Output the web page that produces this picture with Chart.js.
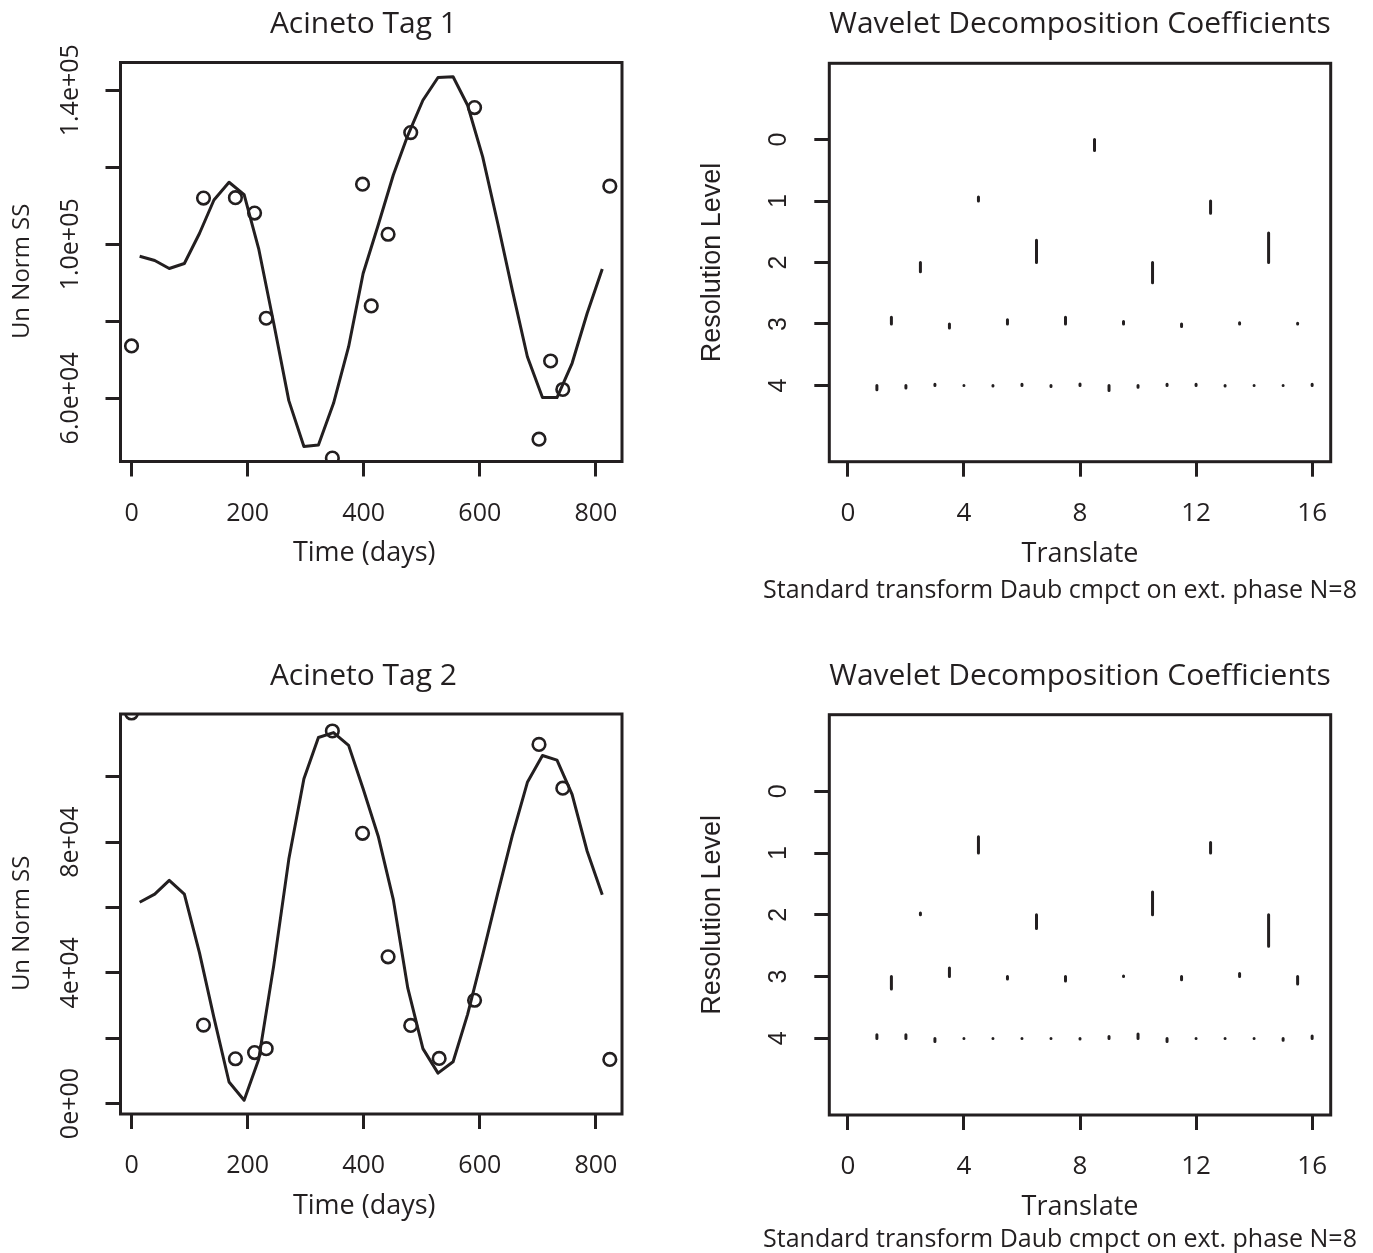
<!DOCTYPE html>
<html>
<head>
<meta charset="utf-8">
<script src="https://cdn.jsdelivr.net/npm/chart.js@4.4.1/dist/chart.umd.min.js"></script>
<style>
  html, body { margin: 0; padding: 0; background: #fff; }
  #page { position: relative; width: 1373px; height: 1253px; }
  #page canvas { position: absolute; left: 0; top: 0; }
</style>
</head>
<body>
<div id="page">
  <canvas id="tag1" width="1373" height="1253"></canvas>
  <canvas id="wave1" width="1373" height="1253"></canvas>
  <canvas id="tag2" width="1373" height="1253"></canvas>
  <canvas id="wave2" width="1373" height="1253"></canvas>
</div>
<script>
// sampling days of the observations (circles)
const sampleDays = [0, 124, 179, 212, 232, 346, 398, 413, 442, 481, 530, 591, 702, 722, 743, 824];
const tag1Obs = [73600, 112000, 112100, 108100, 80800, 44500, 115600, 84000, 102600, 129000, null, 135500, 49400, 69700, 62300, 115100];
const tag2Obs = [119500, 24000, 13700, 15600, 16800, 114000, 82700, null, 44900, 23900, 13800, 31600, 109900, null, 96500, 13500];

// fitted curve
const fitDays = [14, 40, 65, 91, 117, 142, 168, 194, 219, 245, 271, 297, 322, 348, 374, 399,
                 425, 451, 476, 502, 528, 554, 579, 605, 631, 656, 682, 708, 733, 759, 785, 811];
const tag1Fit = [96900, 95800, 93700, 95000, 102800, 111500, 116100, 112900, 98900, 79500, 59400, 47500, 47900, 58700, 73400, 92400,
                 105000, 118000, 128300, 137400, 143300, 143500, 136100, 122700, 105400, 88100, 70800, 60200, 60200, 69100, 82100, 93600];
const tag2Fit = [61600, 64100, 68300, 64100, 46200, 26300, 6600, 1000, 13500, 42200, 74800, 99400, 112000, 113500, 109600, 96300,
                 81800, 62400, 35300, 16800, 9300, 12800, 27300, 45500, 64400, 82000, 98300, 106500, 105100, 94600, 77200, 63900];

const dayTicks = [0, 200, 400, 600, 800];
const tag1YTicks = [60000, 80000, 100000, 120000, 140000];
const tag1YLabels = ['6.0e+04', '', '1.0e+05', '', '1.4e+05'];
const tag2YTicks = [0, 20000, 40000, 60000, 80000, 100000];
const tag2YLabels = ['0e+00', '', '4e+04', '', '8e+04', ''];

// wavelet coefficients: positions and segment lengths per resolution level
const levels = [0, 1, 2, 3, 4];
const translates = [
  [8.5],
  [4.5, 12.5],
  [2.5, 6.5, 10.5, 14.5],
  [1.5, 3.5, 5.5, 7.5, 9.5, 11.5, 13.5, 15.5],
  [1, 2, 3, 4, 5, 6, 7, 8, 9, 10, 11, 12, 13, 14, 15, 16]
];
const wave1Coefs = [
  [0.18],
  [-0.065, 0.2],
  [0.15, -0.36, 0.33, -0.48],
  [-0.11, 0.065, -0.07, -0.11, -0.04, 0.04, -0.02, -0.01],
  [0.07, 0.04, -0.02, 0, 0.01, -0.02, 0.015, -0.025, 0.08, 0.03, -0.02, -0.02, 0.01, 0, 0, -0.02]
];
const wave2Coefs = [
  [null],
  [-0.265, -0.17],
  [-0.03, 0.22, -0.37, 0.51],
  [0.2, -0.14, 0.04, 0.07, -0.01, 0.05, -0.05, 0.12],
  [-0.06, -0.06, 0.05, 0, 0, 0, 0, 0.01, -0.03, -0.07, 0.05, 0, 0, 0, 0.03, -0.04]
];
const translateTicks = [0, 4, 8, 12, 16];
const levelLabels = ['0', '1', '2', '3', '4'];

const INK = '#231f20';
const W = 1373, H = 1253;
const XAXIS_H = 108.5;
// the left-hand titles sit a little off the box centre in the original
const NB = '\u00a0\u00a0';

Chart.defaults.font.family = "'Open Sans', sans-serif";
Chart.defaults.color = INK;

// box around the plot region, like R's box()
const frame = {
  id: 'frame',
  afterDatasetsDraw(chart) {
    const { ctx, chartArea: a } = chart;
    ctx.save();
    ctx.strokeStyle = INK;
    ctx.lineWidth = 3;
    ctx.strokeRect(a.left, a.top, a.right - a.left, a.bottom - a.top);
    ctx.restore();
  }
};

// y tick labels drawn parallel to the axis
const sideLabels = {
  id: 'sideLabels',
  afterDraw(chart, args, opts) {
    const s = chart.scales.y;
    const ctx = chart.ctx;
    ctx.save();
    ctx.fillStyle = INK;
    ctx.font = opts.font;
    ctx.textAlign = 'center';
    ctx.textBaseline = 'middle';
    opts.values.forEach((v, i) => {
      if (!opts.labels[i]) return;
      ctx.save();
      ctx.translate(chart.chartArea.left - opts.gap, s.getPixelForValue(v));
      ctx.rotate(-Math.PI / 2);
      ctx.fillText(opts.labels[i], 0, 0);
      ctx.restore();
    });
    ctx.restore();
  }
};

// sub-caption under the x axis title, wider than the plot so not squeezed
const caption = {
  id: 'caption',
  afterDraw(chart, args, opts) {
    if (!opts.text) return;
    const { ctx, chartArea: a } = chart;
    ctx.save();
    ctx.fillStyle = INK;
    ctx.font = opts.font;
    ctx.textAlign = 'center';
    ctx.textBaseline = 'middle';
    ctx.fillText(opts.text, (a.left + a.right) / 2 + opts.dx, a.bottom + opts.dy);
    ctx.restore();
  }
};

function tickGrid() {
  return { drawOnChartArea: false, drawTicks: true, tickLength: 15, tickWidth: 3, tickColor: INK };
}

function seriesChart(id, title, obs, fit, yMin, yMax, yTicks, yLabels, box) {
  const padLeft = 8.1;
  return new Chart(document.getElementById(id), {
    type: 'scatter',
    data: {
      datasets: [
        {
          data: sampleDays.map((d, i) => ({ x: d, y: obs[i] })),
          pointRadius: 6.3,
          pointBorderWidth: 2.6,
          pointBorderColor: INK,
          pointBackgroundColor: 'rgba(0,0,0,0)',
          showLine: false,
          clip: 0
        },
        {
          type: 'line',
          data: fitDays.map((d, i) => ({ x: d, y: fit[i] })),
          borderColor: INK,
          borderWidth: 3,
          borderJoinStyle: 'round',
          pointRadius: 0,
          tension: 0,
          fill: false,
          clip: 0
        }
      ]
    },
    options: {
      responsive: false,
      animation: false,
      events: [],
      layout: { padding: { left: padLeft, right: W - box.right, top: 0, bottom: H - box.bottom - XAXIS_H } },
      scales: {
        x: {
          type: 'linear', min: -19, max: 845,
          afterBuildTicks: s => { s.ticks = dayTicks.map(v => ({ value: v })); },
          afterFit: s => { s.height = XAXIS_H; },
          grid: tickGrid(),
          border: { display: false },
          ticks: { font: { size: 25 }, padding: 22, maxRotation: 0, autoSkip: false },
          title: { display: true, text: 'Time (days)' + NB, font: { size: 27 }, padding: 0 }
        },
        y: {
          type: 'linear', min: yMin, max: yMax,
          afterBuildTicks: s => { s.ticks = yTicks.map(v => ({ value: v })); },
          afterFit: s => { s.width = box.left - padLeft; },
          grid: tickGrid(),
          border: { display: false },
          ticks: { display: false },
          title: { display: true, text: 'Un Norm SS' + NB + '\u00a0', font: { size: 24 }, padding: 0 }
        }
      },
      plugins: {
        legend: { display: false },
        tooltip: { enabled: false },
        title: {
          display: true, text: title + NB, fullSize: false,
          font: { size: 30, weight: 'normal' },
          padding: { top: box.titleY - 18, bottom: box.top - box.titleY - 18 }
        },
        sideLabels: { values: yTicks, labels: yLabels, gap: 50, font: "25px 'Open Sans', sans-serif" }
      }
    },
    plugins: [frame, sideLabels]
  });
}

function waveletChart(id, coefs, box) {
  // one path, segments split by gaps
  const segs = [];
  levels.forEach(lv => {
    coefs[lv].forEach((c, i) => {
      if (c === null) return;
      const x = translates[lv][i];
      segs.push({ x: x, y: lv }, { x: x, y: lv + c }, { x: x, y: null });
    });
  });
  const padLeft = 696.3;
  return new Chart(document.getElementById(id), {
    type: 'scatter',
    data: {
      datasets: [{
        data: segs,
        showLine: true,
        spanGaps: false,
        borderColor: INK,
        borderWidth: 3,
        borderCapStyle: 'round',
        pointRadius: 0,
        clip: 0
      }]
    },
    options: {
      responsive: false,
      animation: false,
      events: [],
      layout: { padding: { left: padLeft, right: W - box.right, top: 0, bottom: H - box.bottom - XAXIS_H } },
      scales: {
        x: {
          type: 'linear', min: -0.64, max: 16.64,
          afterBuildTicks: s => { s.ticks = translateTicks.map(v => ({ value: v })); },
          afterFit: s => { s.height = XAXIS_H; },
          grid: tickGrid(),
          border: { display: false },
          ticks: { font: { size: 26 }, padding: 21, maxRotation: 0, autoSkip: false },
          title: { display: true, text: 'Translate', font: { size: 27 }, padding: 0 }
        },
        y: {
          type: 'linear', min: -1.24, max: 5.24, reverse: true,
          afterBuildTicks: s => { s.ticks = levels.map(v => ({ value: v })); },
          afterFit: s => { s.width = box.left - padLeft; },
          grid: tickGrid(),
          border: { display: false },
          ticks: { display: false },
          title: { display: true, text: 'Resolution Level', font: { family: "'Liberation Sans', Arial, sans-serif", size: 27 }, padding: 0 }
        }
      },
      plugins: {
        legend: { display: false },
        tooltip: { enabled: false },
        title: {
          display: true, text: 'Wavelet Decomposition Coefficients', fullSize: false,
          font: { size: 30, weight: 'normal' },
          padding: { top: box.titleY - 18, bottom: box.top - box.titleY - 18 }
        },
        caption: {
          text: 'Standard transform Daub cmpct on ext. phase N=8',
          font: "25px 'Open Sans', sans-serif",
          dx: -20, dy: box.subY - box.bottom
        },
        sideLabels: { values: levels, labels: levelLabels, gap: 50, font: "25px 'Liberation Sans', Arial, sans-serif" }
      }
    },
    plugins: [frame, sideLabels, caption]
  });
}

seriesChart('tag1', 'Acineto Tag 1', tag1Obs, tag1Fit, 43600, 147200, tag1YTicks, tag1YLabels,
  { left: 120.5, right: 622, top: 62.5, bottom: 461.5, titleY: 24 });
seriesChart('tag2', 'Acineto Tag 2', tag2Obs, tag2Fit, -3200, 119200, tag2YTicks, tag2YLabels,
  { left: 120.5, right: 622, top: 714, bottom: 1114, titleY: 676 });
waveletChart('wave1', wave1Coefs,
  { left: 829.3, right: 1330.7, top: 63.3, bottom: 461.7, titleY: 24, subY: 591 });
waveletChart('wave2', wave2Coefs,
  { left: 829.3, right: 1330.7, top: 714.7, bottom: 1115, titleY: 676, subY: 1240 });
</script>
</body>
</html>
